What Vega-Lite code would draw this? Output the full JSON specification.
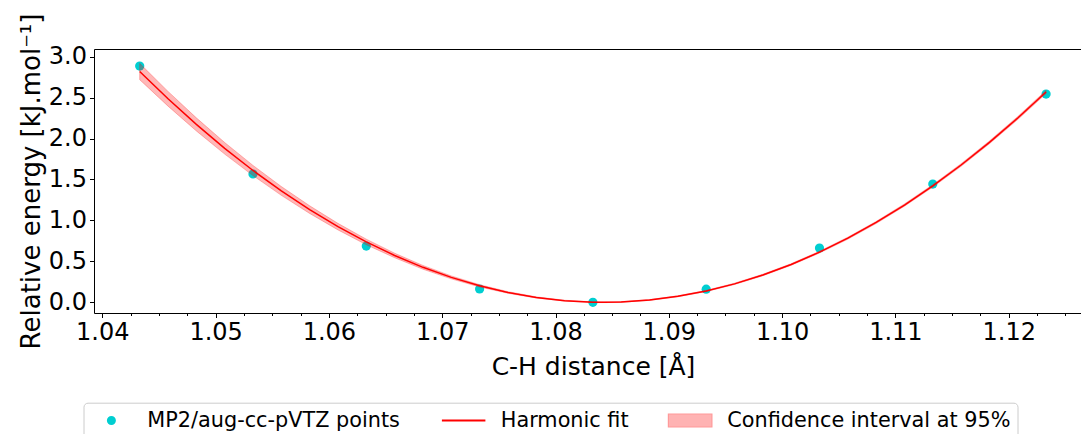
{
  "$schema": "https://vega.github.io/schema/vega-lite/v6.json",
  "autosize": {"type": "none"},
  "padding": {"left": 94, "top": 49, "right": 0, "bottom": 121},
  "width": 987,
  "height": 264,
  "background": "white",
  "config": {
    "font": "DejaVu Sans",
    "view": {"stroke": null},
    "axis": {
      "domainColor": "#000000",
      "domainWidth": 1,
      "tickColor": "#000000",
      "tickWidth": 1,
      "labelColor": "#000000",
      "titleColor": "#000000",
      "labelFont": "DejaVu Sans",
      "titleFont": "DejaVu Sans",
      "labelFontSize": 24,
      "titleFontSize": 25,
      "titleFontWeight": "normal",
      "grid": false
    }
  },
  "datasets": {
    "pts": [
      {"x": 1.0433, "E": 2.885, "series": "MP2/aug-cc-pVTZ points"},
      {"x": 1.0533, "E": 1.567, "series": "MP2/aug-cc-pVTZ points"},
      {"x": 1.0633, "E": 0.687, "series": "MP2/aug-cc-pVTZ points"},
      {"x": 1.0733, "E": 0.162, "series": "MP2/aug-cc-pVTZ points"},
      {"x": 1.0833, "E": 0.0, "series": "MP2/aug-cc-pVTZ points"},
      {"x": 1.0933, "E": 0.160, "series": "MP2/aug-cc-pVTZ points"},
      {"x": 1.1033, "E": 0.663, "series": "MP2/aug-cc-pVTZ points"},
      {"x": 1.1133, "E": 1.444, "series": "MP2/aug-cc-pVTZ points"},
      {"x": 1.1233, "E": 2.543, "series": "MP2/aug-cc-pVTZ points"}
    ],
    "fit": [
      {"x": 1.0433, "fit": 2.819, "lo": 2.719, "hi": 2.919},
      {"x": 1.0458, "fit": 2.486, "lo": 2.396, "hi": 2.576},
      {"x": 1.0483, "fit": 2.173, "lo": 2.093, "hi": 2.253},
      {"x": 1.0508, "fit": 1.881, "lo": 1.810, "hi": 1.952},
      {"x": 1.0533, "fit": 1.610, "lo": 1.548, "hi": 1.672},
      {"x": 1.0558, "fit": 1.360, "lo": 1.306, "hi": 1.414},
      {"x": 1.0583, "fit": 1.132, "lo": 1.085, "hi": 1.179},
      {"x": 1.0608, "fit": 0.924, "lo": 0.884, "hi": 0.964},
      {"x": 1.0633, "fit": 0.737, "lo": 0.703, "hi": 0.771},
      {"x": 1.0658, "fit": 0.572, "lo": 0.544, "hi": 0.600},
      {"x": 1.0683, "fit": 0.427, "lo": 0.404, "hi": 0.450},
      {"x": 1.0708, "fit": 0.304, "lo": 0.286, "hi": 0.322},
      {"x": 1.0733, "fit": 0.201, "lo": 0.187, "hi": 0.215},
      {"x": 1.0758, "fit": 0.120, "lo": 0.110, "hi": 0.130},
      {"x": 1.0783, "fit": 0.059, "lo": 0.052, "hi": 0.066},
      {"x": 1.0808, "fit": 0.020, "lo": 0.015, "hi": 0.025},
      {"x": 1.0833, "fit": 0.001, "lo": -0.003, "hi": 0.005},
      {"x": 1.0843, "fit": 0.000, "lo": -0.004, "hi": 0.004},
      {"x": 1.0858, "fit": 0.004, "lo": 0.000, "hi": 0.008},
      {"x": 1.0883, "fit": 0.028, "lo": 0.023, "hi": 0.033},
      {"x": 1.0908, "fit": 0.073, "lo": 0.067, "hi": 0.079},
      {"x": 1.0933, "fit": 0.138, "lo": 0.131, "hi": 0.145},
      {"x": 1.0958, "fit": 0.225, "lo": 0.217, "hi": 0.233},
      {"x": 1.0983, "fit": 0.333, "lo": 0.324, "hi": 0.342},
      {"x": 1.1008, "fit": 0.462, "lo": 0.452, "hi": 0.472},
      {"x": 1.1033, "fit": 0.612, "lo": 0.601, "hi": 0.623},
      {"x": 1.1058, "fit": 0.783, "lo": 0.771, "hi": 0.795},
      {"x": 1.1083, "fit": 0.975, "lo": 0.962, "hi": 0.988},
      {"x": 1.1108, "fit": 1.188, "lo": 1.174, "hi": 1.202},
      {"x": 1.1133, "fit": 1.422, "lo": 1.407, "hi": 1.437},
      {"x": 1.1158, "fit": 1.677, "lo": 1.661, "hi": 1.693},
      {"x": 1.1183, "fit": 1.954, "lo": 1.937, "hi": 1.971},
      {"x": 1.1208, "fit": 2.251, "lo": 2.233, "hi": 2.269},
      {"x": 1.1233, "fit": 2.569, "lo": 2.549, "hi": 2.589}
    ]
  },
  "resolve": {"axis": {"x": "independent"}},
  "layer": [
    {
      "data": {"name": "pts"},
      "mark": {"type": "point", "shape": "circle", "filled": true, "opacity": 1, "size": 85},
      "encoding": {
        "x": {
          "field": "x", "type": "quantitative",
          "scale": {"domain": [1.039267, 1.126381], "zero": false, "nice": false},
          "axis": {
            "orient": "bottom",
            "title": "C-H distance [Å]",
            "titleX": 499,
            "titleAlign": "center",
            "titlePadding": 10,
            "labelPadding": 3,
            "values": [1.04, 1.0425, 1.045, 1.0475, 1.05, 1.0525, 1.055, 1.0575, 1.06, 1.0625, 1.065, 1.0675, 1.07, 1.0725, 1.075, 1.0775, 1.08, 1.0825, 1.085, 1.0875, 1.09, 1.0925, 1.095, 1.0975, 1.10, 1.1025, 1.105, 1.1075, 1.11, 1.1125, 1.115, 1.1175, 1.12, 1.1225, 1.125],
            "labelExpr": "abs(datum.value*100 - round(datum.value*100)) < 0.01 ? format(datum.value, '.2f') : ''",
            "tickSize": {"condition": {"test": "abs(datum.value*100 - round(datum.value*100)) > 0.01", "value": 2.5}, "value": 4.5},
            "labelFlush": false,
            "labelOverlap": false
          }
        },
        "y": {
          "field": "E", "type": "quantitative",
          "title": "Relative energy [kJ.mol⁻¹]",
          "scale": {"domain": [-0.131, 3.094], "zero": false, "nice": false},
          "axis": {"values": [0, 0.5, 1, 1.5, 2, 2.5, 3], "format": ".1f", "tickSize": 4.5, "labelPadding": 3, "titlePadding": 4, "titleFontSize": 26, "labelFlush": false, "labelOverlap": false}
        },
        "color": {
          "field": "series", "type": "nominal",
          "scale": {
            "domain": ["MP2/aug-cc-pVTZ points", "Harmonic fit", "Confidence interval at 95%"],
            "range": ["#00CED1", "#ff0000", "#ffb3b3"]
          },
          "legend": {
            "orient": "none",
            "legendX": -10.5,
            "legendY": 353.7,
            "direction": "horizontal",
            "title": null,
            "labelFont": "DejaVu Sans",
            "labelFontSize": 20.8,
            "labelColor": "#000000",
            "labelLimit": 600,
            "symbolSize": 400,
            "labelOffset": 36,
            "columnPadding": 36.5,
            "padding": 7,
            "strokeColor": "#cccccc",
            "fillColor": "#ffffff",
            "cornerRadius": 4,
            "symbolOpacity": 1,
            "symbolType": {"expr": "datum.value == 'Harmonic fit' ? 'M-1.25,0L3.1,0' : datum.value == 'Confidence interval at 95%' ? 'M-1.25,-0.65L3.1,-0.65L3.1,0.65L-1.25,0.65Z' : 'M0.7,0A0.35,0.35 0 1,0 1.4,0A0.35,0.35 0 1,0 0.7,0Z'"},
            "symbolStrokeColor": {"expr": "datum.value == 'Confidence interval at 95%' ? '#ff9a9a' : scale('color', datum.value)"},
            "symbolStrokeWidth": {"expr": "datum.value == 'Confidence interval at 95%' ? 1.2 : 2"}
          }
        }
      }
    },
    {
      "data": {"name": "fit"},
      "mark": {"type": "area", "color": "#ff0000", "fillOpacity": 0.28, "stroke": "#ff0000", "strokeOpacity": 0.25, "strokeWidth": 1},
      "encoding": {
        "x": {"field": "x", "type": "quantitative", "axis": null},
        "y": {"field": "lo", "type": "quantitative", "title": "Relative energy [kJ.mol⁻¹]"},
        "y2": {"field": "hi"}
      }
    },
    {
      "data": {"name": "fit"},
      "mark": {"type": "line", "color": "#ff0000", "strokeWidth": 1.5},
      "encoding": {
        "x": {
          "field": "x", "type": "quantitative",
          "axis": {"orient": "top", "labels": false, "ticks": false, "title": null, "domain": true}
        },
        "y": {"field": "fit", "type": "quantitative", "title": "Relative energy [kJ.mol⁻¹]"}
      }
    }
  ]
}
